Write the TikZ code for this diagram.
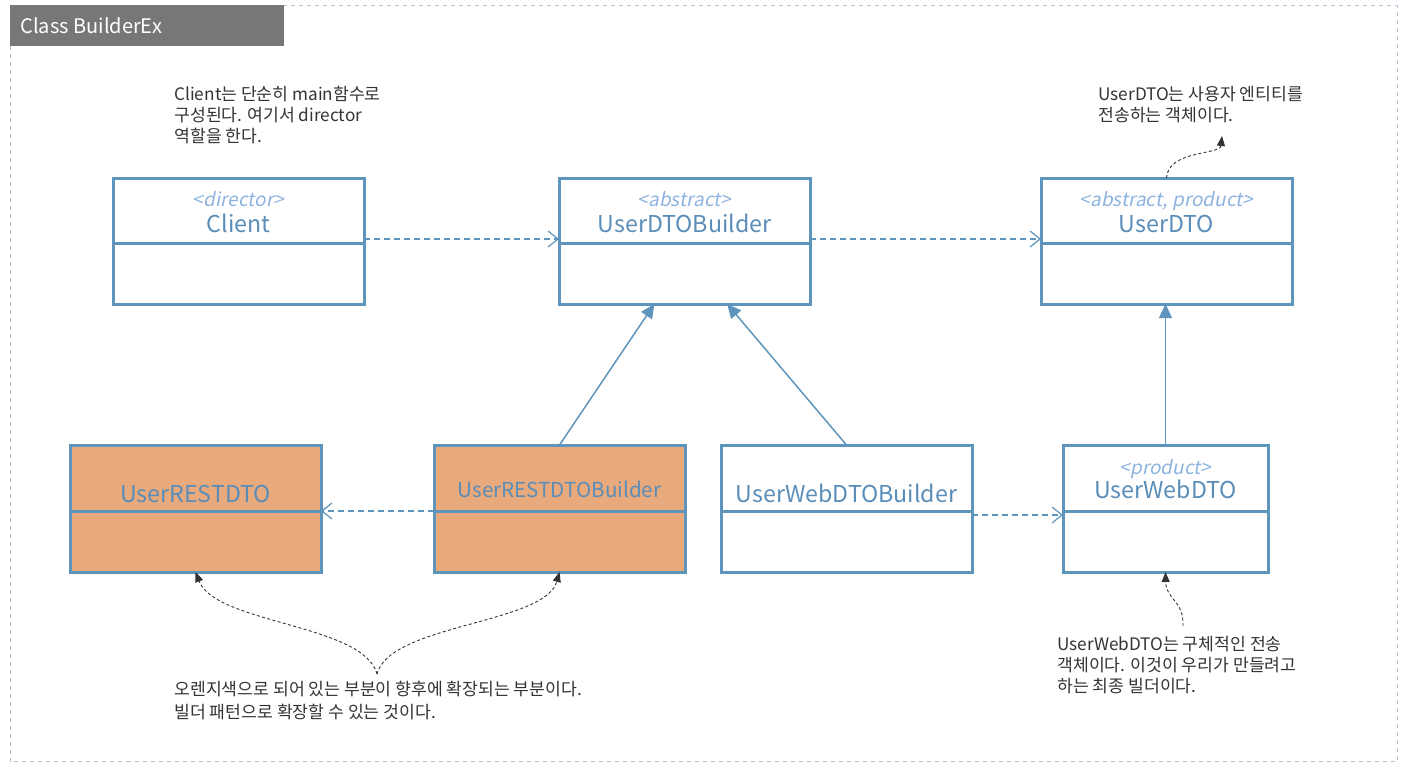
\documentclass[tikz,border=0pt]{standalone}
\usepackage{fontspec}
\setmainfont{Noto Sans CJK KR}
\newfontfamily\stereofont[FakeSlant=0.2]{Noto Sans CJK KR}
\usepackage{tikz}
\usetikzlibrary{positioning,arrows.meta,calc}

\definecolor{clsblue}{HTML}{5E95BD}
\definecolor{clstext}{HTML}{5A8DB8}
\definecolor{stereoblue}{HTML}{8DB3DE}
\definecolor{extorange}{HTML}{E8A97C}
\definecolor{framegray}{HTML}{B6C3DD}
\definecolor{titlegray}{HTML}{777777}
\definecolor{notegray}{HTML}{333333}

\tikzset{
  classtop/.style={draw=clsblue,line width=1.5pt,inner sep=0pt,outer sep=0pt,
    minimum width=125.5pt,minimum height=32.5pt,anchor=north west},
  classbot/.style={draw=clsblue,line width=1.5pt,inner sep=0pt,outer sep=0pt,
    minimum width=125.5pt,minimum height=30.5pt},
  clsname/.style={text=clstext,inner sep=0pt,text height=0.75em,text depth=0pt,
    font=\fontsize{11.6}{14}\selectfont},
  stereo/.style={text=stereoblue,inner sep=0pt,text height=0.72em,text depth=0pt,
    font=\stereofont\fontsize{9.5}{11}\selectfont},
  notetext/.style={text=notegray,inner sep=0pt,align=left,anchor=north west,
    font=\fontsize{8.6}{10.5}\selectfont},
  dep/.style={draw=clsblue,line width=0.75pt,dash pattern=on 3pt off 2pt,
    -{Straight Barb[length=5pt,width=8pt,line width=0.6pt]}},
  inherit/.style={draw=clsblue,line width=0.75pt,-{Triangle[length=7pt,width=6.5pt]}},
  note/.style={draw=notegray,line width=0.45pt,dash pattern=on 1.5pt off 1.2pt,
    -{Triangle[length=5pt,width=4pt]}}
}

\begin{document}
\begin{tikzpicture}[x=1pt,y=-1pt]

  \useasboundingbox (0,0) rectangle (704,384);

  % Frame and title
  \draw [framegray,line width=0.5pt,dash pattern=on 2pt off 2pt] (5,2.75) rectangle (698.5,380.5);
  \node [fill=titlegray,inner sep=0pt,outer sep=0pt,anchor=north west,
    minimum width=137pt,minimum height=20.5pt] (title) at (5,2.5) {};
  \node [text=white,inner sep=0pt,anchor=west,font=\fontsize{10}{12}\selectfont]
    (titletext) at ([xshift=5pt]title.west) {Class BuilderEx};

  % Client
  \node [classtop] (clientt) at (56.5,89) {};
  \node [classbot,below=0pt of clientt] (clientb) {};
  \node [stereo] (clientst) at ([yshift=-10.5pt]clientt.north) {<director>};
  \node [clsname] (clientnm) at ([yshift=-23.5pt]clientt.north) {Client};

  % UserDTOBuilder
  \node [classtop,right=97.5pt of clientt] (buildert) {};
  \node [classbot,below=0pt of buildert] (builderb) {};
  \node [stereo] (builderst) at ([yshift=-10.5pt]buildert.north) {<abstract>};
  \node [clsname] (buildernm) at ([yshift=-23.5pt]buildert.north) {UserDTOBuilder};

  % UserDTO
  \node [classtop,right=115.5pt of buildert] (dtot) {};
  \node [classbot,below=0pt of dtot] (dtob) {};
  \node [stereo] (dtost) at ([yshift=-10.5pt]dtot.north) {<abstract, product>};
  \node [clsname] (dtonm) at ([yshift=-23.5pt]dtot.north) {UserDTO};

  % UserRESTDTO
  \node [classtop,fill=extorange,minimum height=33pt] (restdtot) at (35,222.5) {};
  \node [classbot,fill=extorange,below=0pt of restdtot] (restdtob) {};
  \node [clsname] (restdtonm) at ([yshift=-25pt]restdtot.north) {UserRESTDTO};

  % UserRESTDTOBuilder
  \node [classtop,fill=extorange,minimum height=33pt,right=56.5pt of restdtot] (restbuildert) {};
  \node [classbot,fill=extorange,below=0pt of restbuildert] (restbuilderb) {};
  \node [clsname,font=\fontsize{10.3}{12}\selectfont] (restbuildernm)
    at ([yshift=-22.5pt]restbuildert.north) {UserRESTDTOBuilder};

  % UserWebDTOBuilder
  \node [classtop,minimum height=33pt,right=18pt of restbuildert] (webbuildert) {};
  \node [classbot,below=0pt of webbuildert] (webbuilderb) {};
  \node [clsname] (webbuildernm) at ([yshift=-25pt]webbuildert.north) {UserWebDTOBuilder};

  % UserWebDTO
  \node [classtop,minimum height=33pt,minimum width=102.5pt,right=45.5pt of webbuildert] (webdtot) {};
  \node [classbot,minimum width=102.5pt,below=0pt of webdtot] (webdtob) {};
  \node [stereo] (webdtost) at ([yshift=-11pt]webdtot.north) {<product>};
  \node [clsname] (webdtonm) at ([yshift=-23pt]webdtot.north) {UserWebDTO};

  % Dependencies
  \draw [dep] ([yshift=2pt]clientt.south east) -- ([yshift=2pt]buildert.south west);
  \draw [dep] ([yshift=2pt]buildert.south east) -- ([yshift=2pt]dtot.south west);
  \draw [dep] (restbuildert.south west) -- (restdtot.south east);
  \draw [dep] ([yshift=-2pt]webbuildert.south east) -- ([yshift=-2pt]webdtot.south west);

  % Generalizations
  \draw [inherit] (restbuildert.north) -- ($(builderb.south west)!0.38!(builderb.south east)$);
  \draw [inherit] (webbuildert.north) -- ($(builderb.south west)!0.67!(builderb.south east)$);
  \draw [inherit] (webdtot.north) -- (webdtot.north |- dtob.south);

  % Notes
  \node [notetext] (clientnote) at (87,43)
    {Client는 단순히 main함수로\\구성된다. 여기서 director\\역할을 한다.};
  \node [notetext] (dtonote) at (549,43)
    {UserDTO는 사용자 엔티티를\\전송하는 객체이다.};
  \node [notetext] (webdtonote) at (528.5,318)
    {UserWebDTO는 구체적인 전송\\객체이다. 이것이 우리가 만들려고\\하는 최종 빌더이다.};
  \node [notetext,font=\fontsize{8.6}{11.5}\selectfont] (extnote) at (87,340.5)
    {오렌지색으로 되어 있는 부분이 향후에 확장되는 부분이다.\\빌더 패턴으로 확장할 수 있는 것이다.};

  % Note arrows
  \coordinate (dtotip) at (611,68);
  \draw [note] (dtot.north) .. controls (584,75) and (610,77.5) .. (dtotip);

  \coordinate (webdtostart) at (591.5,313);
  \draw [note] (webdtostart) .. controls (592,300) and (583,300) .. (webdtob.south);

  \coordinate (extstart) at (188.5,337);
  \draw [note] (extstart) .. controls (182,312) and (108,312) .. (restdtob.south);
  \draw [note] (extstart) .. controls (195,312) and (272.5,312) .. (restbuilderb.south);

\end{tikzpicture}
\end{document}
